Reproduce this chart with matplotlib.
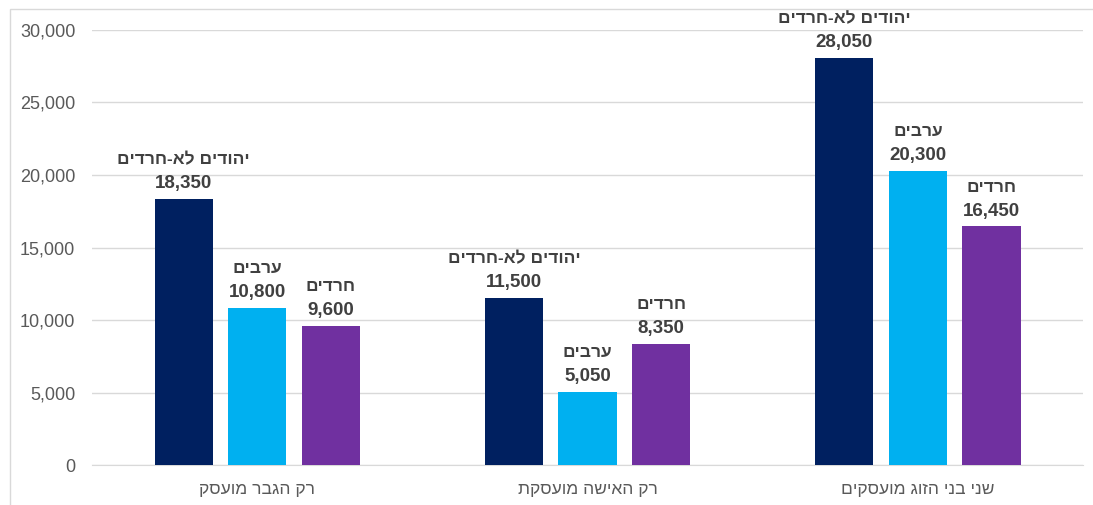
import numpy as np
import matplotlib.pyplot as plt
from matplotlib.patches import Rectangle

plt.rcParams["font.family"] = ["Liberation Sans", "DejaVu Sans"]

# data (Hebrew strings in logical order; reversed for display since matplotlib has no bidi)
categories = ["רק הגבר מועסק", "רק האישה מועסקת", "שני בני הזוג מועסקים"]
series = ["יהודים לא-חרדים", "ערבים", "חרדים"]
values = {
    "יהודים לא-חרדים": [18350, 11500, 28050],
    "ערבים": [10800, 5050, 20300],
    "חרדים": [9600, 8350, 16450],
}
colors = ["#002060", "#00B0F0", "#7030A0"]
yticks = [0, 5000, 10000, 15000, 20000, 25000, 30000]


def rtl(s):
    return s[::-1]


fig = plt.figure(figsize=(10.93, 5.05), dpi=100)
ax = fig.add_axes([0.0842, 0.0792, 0.9067, 0.8614])

x = np.arange(len(categories))
step = 0.2227
width = 0.176

for i, name in enumerate(series):
    xs = x + (i - 1) * step
    vals = values[name]
    ax.bar(xs, vals, width=width, color=colors[i], zorder=3)
    for xi, v in zip(xs, vals):
        ax.annotate(f"{v:,}", (xi, v), xytext=(0, 5), textcoords="offset points",
                    ha="center", va="bottom", fontsize=13.5, fontweight="bold",
                    color="#404040")
        ax.annotate(rtl(name), (xi, v), xytext=(0, 23), textcoords="offset points",
                    ha="center", va="bottom", fontsize=12.5, fontweight="bold",
                    color="#404040")

ax.set_xlim(-0.5, len(categories) - 0.5)
ax.set_ylim(0, 30000)
ax.set_yticks(yticks)
ax.set_yticklabels([f"{t:,}" for t in yticks], fontsize=13, color="#595959")
ax.set_xticks(x)
ax.set_xticklabels([rtl(c) for c in categories], fontsize=12.5, color="#595959")
ax.tick_params(axis="y", length=0, pad=12)
ax.tick_params(axis="x", length=0, pad=12)
ax.grid(axis="y", color="#D9D9D9", linewidth=1, zorder=0)
for s in ["top", "right", "left"]:
    ax.spines[s].set_visible(False)
ax.spines["bottom"].set_color("#D9D9D9")
ax.set_axisbelow(True)

# chart border
fig.patches.append(Rectangle((10 / 1093, -0.01), 1.02, (505 - 9) / 505 + 0.01,
                             transform=fig.transFigure, fill=False,
                             edgecolor="#D9D9D9", linewidth=1))

fig.savefig("out.png", dpi=100)
